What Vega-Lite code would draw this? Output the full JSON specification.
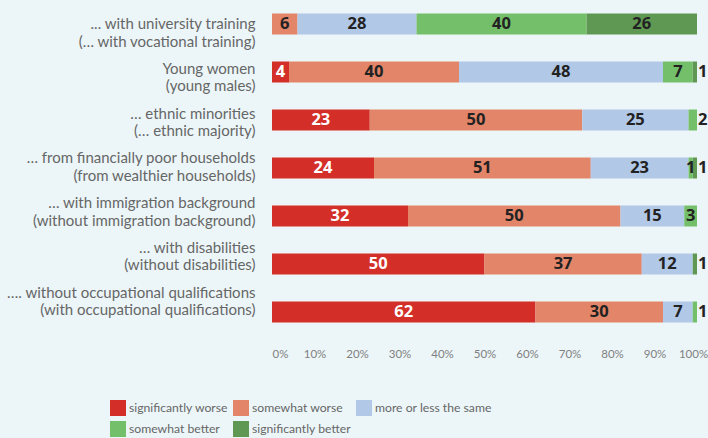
{
  "$schema": "https://vega.github.io/schema/vega-lite/v6.json",
  "width": 425,
  "height": 336,
  "autosize": {"type": "none"},
  "padding": {"left": 272, "top": 0, "right": 11, "bottom": 102},
  "background": "#ecf6f9",
  "config": {"view": {"stroke": null}, "font": "Lato"},
  "data": {
    "values": [
      {"group": "... with university training|(… with vocational training)", "category": "somewhat worse", "value": 6},
      {"group": "... with university training|(… with vocational training)", "category": "more or less the same", "value": 28},
      {"group": "... with university training|(… with vocational training)", "category": "somewhat better", "value": 40},
      {"group": "... with university training|(… with vocational training)", "category": "significantly better", "value": 26},
      {"group": "Young women|(young males)", "category": "significantly worse", "value": 4},
      {"group": "Young women|(young males)", "category": "somewhat worse", "value": 40},
      {"group": "Young women|(young males)", "category": "more or less the same", "value": 48},
      {"group": "Young women|(young males)", "category": "somewhat better", "value": 7},
      {"group": "Young women|(young males)", "category": "significantly better", "value": 1},
      {"group": "… ethnic minorities|(… ethnic majority)", "category": "significantly worse", "value": 23},
      {"group": "… ethnic minorities|(… ethnic majority)", "category": "somewhat worse", "value": 50},
      {"group": "… ethnic minorities|(… ethnic majority)", "category": "more or less the same", "value": 25},
      {"group": "… ethnic minorities|(… ethnic majority)", "category": "somewhat better", "value": 2},
      {"group": "… from financially poor households|(from wealthier households)", "category": "significantly worse", "value": 24},
      {"group": "… from financially poor households|(from wealthier households)", "category": "somewhat worse", "value": 51},
      {"group": "… from financially poor households|(from wealthier households)", "category": "more or less the same", "value": 23},
      {"group": "… from financially poor households|(from wealthier households)", "category": "somewhat better", "value": 1},
      {"group": "… from financially poor households|(from wealthier households)", "category": "significantly better", "value": 1},
      {"group": "… with immigration background|(without immigration background)", "category": "significantly worse", "value": 32},
      {"group": "… with immigration background|(without immigration background)", "category": "somewhat worse", "value": 50},
      {"group": "… with immigration background|(without immigration background)", "category": "more or less the same", "value": 15},
      {"group": "… with immigration background|(without immigration background)", "category": "somewhat better", "value": 3},
      {"group": "… with disabilities|(without disabilities)", "category": "significantly worse", "value": 50},
      {"group": "… with disabilities|(without disabilities)", "category": "somewhat worse", "value": 37},
      {"group": "… with disabilities|(without disabilities)", "category": "more or less the same", "value": 12},
      {"group": "… with disabilities|(without disabilities)", "category": "significantly better", "value": 1},
      {"group": "…. without occupational qualifications|(with occupational qualifications)", "category": "significantly worse", "value": 62},
      {"group": "…. without occupational qualifications|(with occupational qualifications)", "category": "somewhat worse", "value": 30},
      {"group": "…. without occupational qualifications|(with occupational qualifications)", "category": "more or less the same", "value": 7},
      {"group": "…. without occupational qualifications|(with occupational qualifications)", "category": "somewhat better", "value": 1}
    ]
  },
  "transform": [
    {"calculate": "indexof(['significantly worse','somewhat worse','more or less the same','somewhat better','significantly better'], datum.category)", "as": "k"},
    {"stack": "value", "groupby": ["group"], "sort": [{"field": "k", "order": "ascending"}], "as": ["x0", "x1"]},
    {"calculate": "(datum.x0 + datum.x1) / 2", "as": "mid"}
  ],
  "encoding": {
    "y": {
      "field": "group",
      "type": "nominal",
      "sort": null,
      "scale": {"paddingInner": 0.5625, "paddingOuter": 0.28125},
      "axis": {
        "title": null,
        "domain": false,
        "ticks": false,
        "labelExpr": "split(datum.label, '|')",
        "labelAlign": "right",
        "labelBaseline": "middle",
        "labelFont": "Lato",
        "labelFontSize": 15,
        "labelLineHeight": 17.5,
        "labelColor": "#666666",
        "labelPadding": 17,
        "labelLimit": 300,
        "labelOffset": {"expr": "-19.5 * (datum.index || 0)"}
      }
    }
  },
  "layer": [
    {
      "mark": {"type": "bar"},
      "encoding": {
        "x": {
          "field": "x0",
          "type": "quantitative",
          "scale": {"domain": [0, 100], "nice": false},
          "axis": {
            "title": null,
            "values": [0, 10, 20, 30, 40, 50, 60, 70, 80, 90, 100],
            "labelExpr": "datum.value + '%'",
            "labelFlush": false,
            "labelAlign": {"condition": {"test": "datum.value == 0", "value": "left"}, "value": "center"},
            "labelOffset": {"condition": {"test": "datum.value == 100", "value": -4}, "value": 0},
            "domain": false,
            "ticks": false,
            "grid": false,
            "labelColor": "#808080",
            "labelFont": "Lato",
            "labelFontSize": 11.5,
            "labelPadding": 12
          }
        },
        "x2": {"field": "x1"},
        "color": {
          "field": "category",
          "type": "nominal",
          "scale": {
            "domain": ["significantly worse", "somewhat worse", "more or less the same", "somewhat better", "significantly better"],
            "range": ["#D32F28", "#E38568", "#B2C8E7", "#74BF6A", "#5F9853"]
          },
          "legend": {
            "title": null,
            "orient": "none",
            "legendX": -162,
            "legendY": 400,
            "direction": "horizontal",
            "columns": 3,
            "symbolType": "square",
            "symbolSize": 256,
            "symbolStrokeWidth": 0,
            "labelFont": "Lato",
            "labelFontSize": 12.2,
            "labelColor": "#666666",
            "labelOffset": 3,
            "columnPadding": 5,
            "rowPadding": 5,
            "labelLimit": 300,
            "encode": {
              "symbols": {
                "update": {
                  "fill": {"signal": "datum.value === 'significantly worse' ? '#D32F28' : datum.value === 'somewhat worse' ? '#E38568' : datum.value === 'more or less the same' ? '#93B3DF' : datum.value === 'somewhat better' ? '#C5E5C0' : '#5F9853'"},
                  "stroke": {"value": "transparent"}
                }
              }
            }
          }
        }
      }
    },
    {
      "transform": [{"filter": "!(datum.x1 >= 99.99 && datum.value < 3)"}],
      "mark": {"type": "text", "font": "Open Sans", "fontWeight": "bold", "fontSize": 16.5, "align": "center", "baseline": "middle"},
      "encoding": {
        "x": {"field": "mid", "type": "quantitative"},
        "text": {"field": "value", "type": "quantitative"},
        "color": {"condition": {"test": "datum.category === 'significantly worse'", "value": "#ffffff"}, "value": "#222222"}
      }
    },
    {
      "transform": [{"filter": "datum.x1 >= 99.99 && datum.value < 3"}],
      "mark": {"type": "text", "font": "Open Sans", "fontWeight": "bold", "fontSize": 16.5, "align": "left", "baseline": "middle", "dx": 1, "color": "#222222"},
      "encoding": {
        "x": {"field": "x1", "type": "quantitative"},
        "text": {"field": "value", "type": "quantitative"}
      }
    }
  ]
}
